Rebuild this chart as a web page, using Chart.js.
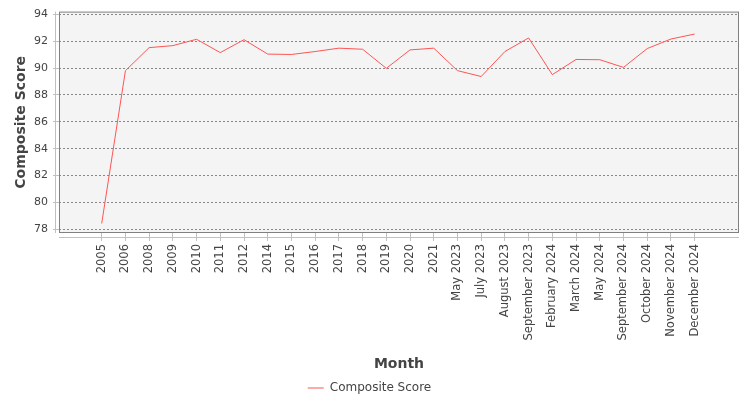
<!DOCTYPE html>
<html>
<head>
<meta charset="utf-8">
<style>
  body { margin: 0; background: #fff; }
  #wrap { width: 750px; height: 400px; }
</style>
</head>
<body>
<div id="wrap">
  <canvas id="myChart" width="750" height="400"></canvas>
</div>
<script src="https://cdn.jsdelivr.net/npm/chart.js@4.4.2/dist/chart.umd.min.js"></script>
<script>
  // chart values
  const months = ['2005', '2006', '2008', '2009', '2010', '2011', '2012', '2014', '2015', '2016',
    '2017', '2018', '2019', '2020', '2021', 'May 2023', 'July 2023', 'August 2023',
    'September 2023', 'February 2024', 'March 2024', 'May 2024', 'September 2024',
    'October 2024', 'November 2024', 'December 2024'];
  const compositeScore = [78.44, 89.8, 91.52, 91.67, 92.14, 91.15, 92.11, 91.04, 91.01, 91.23,
    91.48, 91.4, 89.98, 91.35, 91.48, 89.81, 89.37, 91.23,
    92.24, 89.51, 90.64, 90.62, 90.05,
    91.45, 92.16, 92.53];
  const yTicks = [78, 80, 82, 84, 86, 88, 90, 92, 94];

  const ctx = document.getElementById('myChart');
  const FONT = 'DejaVu Sans';

  // plot background, border and the detached axis lines (JFreeChart look)
  const plotFrame = {
    id: 'plotFrame',
    beforeDraw(chart) {
      const a = chart.chartArea;
      const c = chart.ctx;
      c.save();
      c.fillStyle = '#f4f4f4';
      c.fillRect(a.left, a.top, a.right - a.left, a.bottom - a.top);
      c.restore();
    },
    afterDraw(chart) {
      const a = chart.chartArea;
      const c = chart.ctx;
      c.save();
      c.strokeStyle = '#808080';
      c.lineWidth = 1;
      c.strokeRect(a.left + 0.5, a.top + 0.5, a.right - a.left - 1, a.bottom - a.top - 1);
      c.strokeStyle = '#c0c0c0';
      c.beginPath();
      c.moveTo(a.left - 3.5, a.top);
      c.lineTo(a.left - 3.5, a.bottom);
      c.moveTo(a.left, a.bottom + 4.5);
      c.lineTo(a.right, a.bottom + 4.5);
      c.stroke();
      c.restore();
    }
  };

  const myChart = new Chart(ctx, {
    type: 'line',
    data: {
      datasets: [{
        label: 'Composite Score',
        data: compositeScore.map((v, i) => ({ x: i, y: v })),
        borderColor: '#ff5555',
        backgroundColor: '#ff5555',
        borderWidth: 1,
        pointRadius: 0,
        tension: 0
      }]
    },
    options: {
      responsive: false,
      animation: false,
      devicePixelRatio: 1,
      layout: { padding: { top: 8, right: 11, bottom: -4, left: 0 } },
      plugins: {
        legend: {
          position: 'bottom',
          labels: {
            usePointStyle: true,
            pointStyle: 'line',
            pointStyleWidth: 16,
            boxHeight: 12,
            padding: 10,
            color: '#444',
            font: { family: FONT, size: 12 }
          }
        },
        tooltip: { enabled: false }
      },
      scales: {
        x: {
          type: 'linear',
          min: -1.8,
          max: 26.87,
          afterFit(scale) { scale.height = 139; },
          afterBuildTicks(scale) {
            scale.ticks = scale.ticks.filter(t => t.value >= 0 && t.value < months.length);
          },
          grid: {
            drawOnChartArea: false,
            drawTicks: true,
            tickLength: 8,
            tickColor: '#c0c0c0'
          },
          border: { display: false },
          ticks: {
            stepSize: 1,
            includeBounds: false,
            autoSkip: false,
            maxRotation: 90,
            minRotation: 90,
            padding: 3,
            color: '#444',
            font: { family: FONT, size: 11.5 },
            callback: (v) => months[v] ?? ''
          },
          title: {
            display: true,
            text: 'Month',
            color: '#444',
            font: { family: FONT, size: 14, weight: 'bold' },
            padding: { top: 4, bottom: -1 }
          }
        },
        y: {
          min: 77.73,
          max: 94.2,
          afterFit(scale) { scale.width = 59; },
          afterBuildTicks(scale) {
            scale.ticks = yTicks.map(v => ({ value: v }));
          },
          grid: {
            color: '#888',
            lineWidth: 1,
            drawTicks: true,
            tickLength: 6,
            tickColor: '#c0c0c0',
            tickBorderDash: []
          },
          // in v4 the dash of the grid lines lives under border
          border: { display: false, dash: [2, 2] },
          ticks: {
            padding: 5,
            color: '#444',
            font: { family: FONT, size: 11 }
          },
          title: {
            display: true,
            text: 'Composite Score',
            color: '#444',
            font: { family: FONT, size: 14, weight: 'bold' },
            padding: { top: 12.6, bottom: 0 }
          }
        }
      }
    },
    plugins: [plotFrame]
  });
</script>
</body>
</html>
